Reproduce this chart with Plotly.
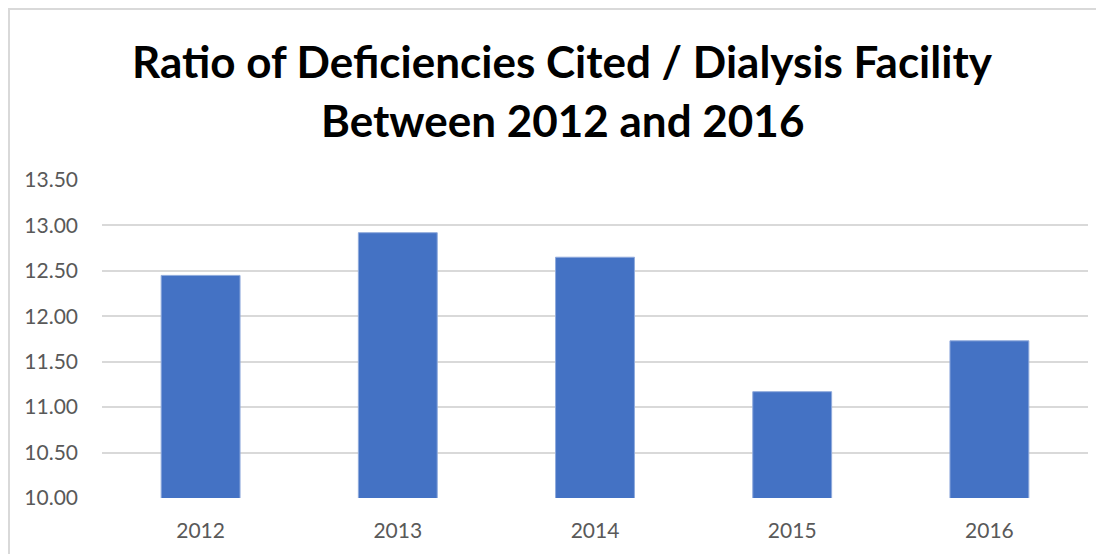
import plotly.graph_objects as go

years = ["2012", "2013", "2014", "2015", "2016"]
ratios = [12.45, 12.92, 12.65, 11.17, 11.73]
y_ticks = [10.0, 10.5, 11.0, 11.5, 12.0, 12.5, 13.0, 13.5]

title_1 = "Ratio of Deficiencies Cited / Dialysis Facility"
title_2 = "Between 2012 and 2016"

fig = go.Figure(
    go.Bar(
        x=years,
        y=ratios,
        marker_color="#4472C4",
        marker_line_color="#8FAADC",
        marker_line_width=1,
    )
)

# the page body adds an 8px offset, so the figure is 8px smaller
fig.update_layout(
    width=1096,
    height=546,
    margin=dict(l=94, r=16, t=172, b=56),
    paper_bgcolor="white",
    plot_bgcolor="white",
    font=dict(family="Lato", color="#595959", size=21),
    bargap=0.6,
    showlegend=False,
)

fig.update_yaxes(
    range=[10, 13.5],
    tickvals=y_ticks,
    tickformat=".2f",
    showgrid=True,
    gridcolor="#D9D9D9",
    gridwidth=1.5,
    zeroline=False,
    ticklabelstandoff=23,
)
fig.update_xaxes(
    showgrid=False,
    showline=False,
    ticklabelstandoff=18,
)

for text, ypos in [(title_1, 1.375), (title_2, 1.19)]:
    fig.add_annotation(
        text="<b>" + text + "</b>",
        xref="paper",
        yref="paper",
        x=0.4675,
        y=ypos,
        xanchor="center",
        yanchor="middle",
        showarrow=False,
        font=dict(family="Lato", size=44, color="black"),
    )

# chart frame (only the top and left edges are inside the picture)
fig.add_shape(
    type="rect",
    xref="paper",
    yref="paper",
    x0=-0.0943,
    x1=1.2,
    y0=-0.5,
    y1=1.538,
    line=dict(color="#D9D9D9", width=2),
    layer="below",
)

fig.write_html("out.html")
